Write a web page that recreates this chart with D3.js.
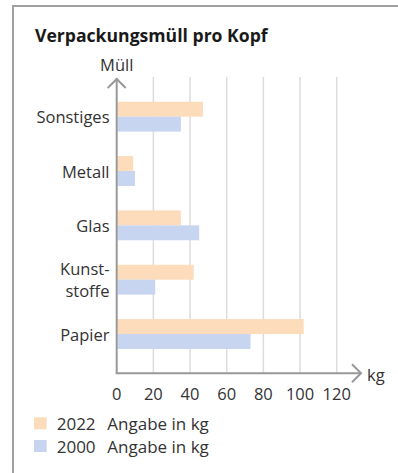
<!DOCTYPE html>
<html>
<head>
<meta charset="utf-8">
<script src="https://d3js.org/d3.v7.min.js"></script>
<style>
  body { margin: 0; background: #fff; }
  svg { display: block; font-family: "Open Sans", sans-serif; }
</style>
</head>
<body>
<div id="chart"></div>
<script>
  // values (kg per head)
  var categories = ["Sonstiges", "Metall", "Glas", "Kunststoffe", "Papier"];
  var labelLines = [["Sonstiges"], ["Metall"], ["Glas"], ["Kunst-", "stoffe"], ["Papier"]];
  var values2022 = [47, 9, 35, 42, 102];
  var values2000 = [35, 10, 45, 21, 73];
  var xTicks = [0, 20, 40, 60, 80, 100, 120];
  var seriesYears = ["2022", "2000"];
  var seriesUnit = "Angabe in kg";

  var width = 398, height = 473
  var orange = "#fddcbb", blue = "#c8d5f1"
  var axisColor = "#999", gridColor = "#dcdcdc"
  var fs = 16.5

  var svg = d3.select("#chart").append("svg")
    .attr("width", width)
    .attr("height", height);

  // frame (only top and left edges show)
  svg.append("path")
    .attr("d", "M13,473 V6 H398")
    .attr("fill", "none")
    .attr("stroke", "#a0a0a0")
    .attr("stroke-width", 2);

  svg.append("text")
    .attr("x", 35).attr("y", 42)
    .attr("font-size", 17.6)
    .attr("font-weight", "bold")
    .attr("fill", "#1a1a1a")
    .text("Verpackungsmüll pro Kopf");

  var x = d3.scaleLinear().domain([0, 120]).range([116.7, 336.7]);
  var y = d3.scaleBand().domain(categories).range([89.5, 361.2])
    .paddingInner(0.45).paddingOuter(0.225);
  var bh = y.bandwidth() / 2;
  var axisY = 373.3;

  // grid
  svg.append("g").selectAll("line")
    .data(xTicks.slice(1))
    .enter().append("line")
    .attr("x1", function(d){ return x(d); })
    .attr("x2", function(d){ return x(d); })
    .attr("y1", 77).attr("y2", axisY)
    .attr("stroke", gridColor)
    .attr("stroke-width", 1.5);

  // bars
  svg.append("g").selectAll("rect")
    .data(values2022)
    .enter().append("rect")
    .attr("x", x(0) + 0.8)
    .attr("y", function(d, i){ return y(categories[i]); })
    .attr("width", function(d){ return x(d) - x(0) - 0.8; })
    .attr("height", bh)
    .attr("fill", orange);
  svg.append("g").selectAll("rect")
    .data(values2000)
    .enter().append("rect")
    .attr("x", x(0) + 0.8)
    .attr("y", function(d, i){ return y(categories[i]) + bh; })
    .attr("width", function(d){ return x(d) - x(0) - 0.8; })
    .attr("height", bh)
    .attr("fill", blue);

  // axes with arrows
  var axes = svg.append("g")
    .attr("fill", "none")
    .attr("stroke", axisColor)
    .attr("stroke-width", 2);
  axes.append("path").attr("d", "M" + x(0) + "," + axisY + " V78");
  axes.append("path").attr("d", "M" + (x(0) - 9) + ",88 L" + x(0) + ",79 L" + (x(0) + 9) + ",88");
  axes.append("path").attr("d", "M" + (x(0) - 1) + "," + axisY + " H360");
  axes.append("path").attr("d", "M352," + (axisY - 9) + " L361," + axisY + " L352," + (axisY + 9));

  svg.append("text")
    .attr("x", x(0)).attr("y", 71)
    .attr("text-anchor", "middle")
    .attr("font-size", fs)
    .attr("fill", "#333")
    .text("Müll");
  svg.append("text")
    .attr("x", 367).attr("y", 381)
    .attr("font-size", fs)
    .attr("fill", "#333")
    .text("kg");

  // x tick labels
  svg.append("g").selectAll("text")
    .data(xTicks)
    .enter().append("text")
    .attr("x", function(d){ return x(d); })
    .attr("y", 399.5)
    .attr("text-anchor", "middle")
    .attr("font-size", fs)
    .attr("fill", "#333")
    .text(function(d){ return d; });

  // category labels
  var lab = svg.append("g").selectAll("text")
    .data(categories)
    .enter().append("text")
    .attr("text-anchor", "end")
    .attr("font-size", fs)
    .attr("fill", "#333")
    .attr("x", 109.5)
    .attr("y", function(d){ return y(d) + y.bandwidth() / 2; });
  lab.each(function(d, i){
    var lines = labelLines[i];
    var t = d3.select(this);
    lines.forEach(function(l, j){
      t.append("tspan")
        .attr("x", 109.5)
        .attr("dy", j == 0 ? (6.5 - (lines.length - 1) * 11) : 22.3)
        .text(l);
    });
  });

  // legend
  var leg = svg.append("g").selectAll("g")
    .data(seriesYears)
    .enter().append("g")
    .attr("transform", function(d, i){ return "translate(34," + (417.3 + i * 22.7) + ")"; });
  leg.append("rect")
    .attr("width", 12.7).attr("height", 12)
    .attr("fill", function(d, i){ return i == 0 ? orange : blue; });
  leg.append("text")
    .attr("x", 22.7).attr("y", 12.8)
    .attr("font-size", 17)
    .attr("fill", "#333")
    .text(function(d){ return d; });
  leg.append("text")
    .attr("x", 73.3).attr("y", 12.8)
    .attr("font-size", 17)
    .attr("fill", "#333")
    .text(seriesUnit);
</script>
</body>
</html>
